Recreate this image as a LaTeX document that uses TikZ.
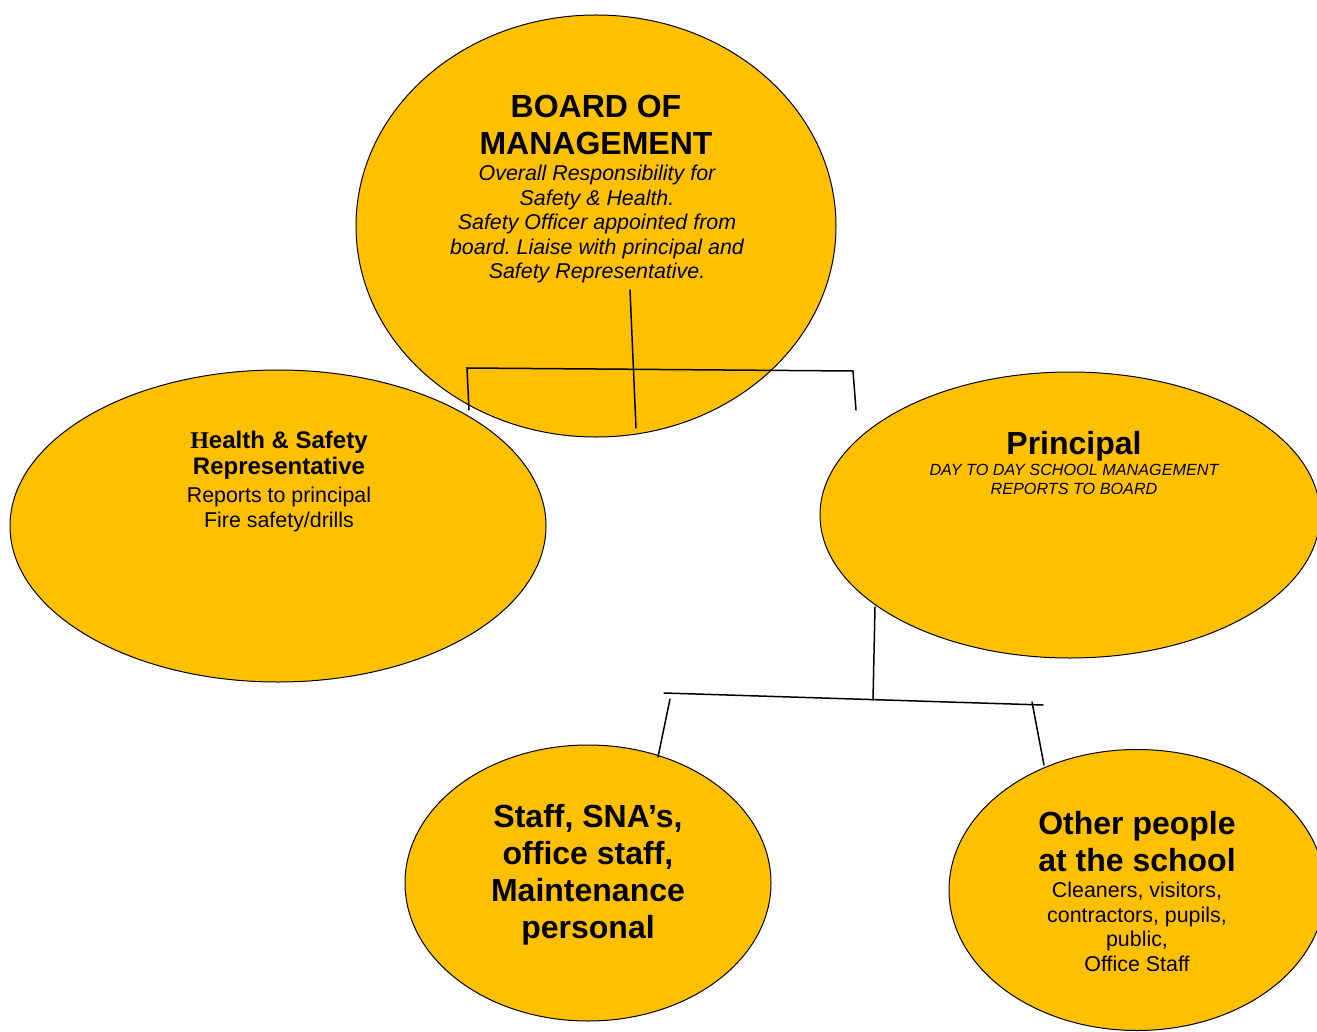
\documentclass[tikz,border=0pt]{standalone}
\usepackage{fontspec}
\setmainfont{Liberation Sans}
\newfontfamily\serifH{Liberation Serif}
\usetikzlibrary{shapes.geometric}
\definecolor{orgGold}{RGB}{255,192,0}
\frenchspacing
\begin{document}
\begin{tikzpicture}[x=1pt,y=-1pt,
    orgEllipse/.style={ellipse,draw=black,line width=1pt,fill=orgGold,inner sep=0pt},
    orgLine/.style={line width=1.5pt,line cap=round},
    orgTitle/.style={anchor=north,inner sep=0pt,align=center,font=\fontsize{32}{37}\selectfont\bfseries},
    orgText/.style={anchor=north,inner sep=0pt,align=center,font=\fontsize{21.4}{24.5}\selectfont},
]
\clip (0,0) rectangle (1317,1032);
% Ellipses
\node[orgEllipse,minimum width=480pt,minimum height=422pt] (board) at (596,226) {};
\node[orgEllipse,minimum width=536pt,minimum height=312pt] (hsRep) at (278,526) {};
\node[orgEllipse,minimum width=500pt,minimum height=286pt] (principal) at (1070,515) {};
\node[orgEllipse,minimum width=366pt,minimum height=276pt] (staff) at (588,883) {};
\node[orgEllipse,minimum width=376pt,minimum height=281pt] (others) at (1137,890) {};
% Texts
\node[orgTitle] (boardTitle) at (596,95) {BOARD OF\\MANAGEMENT};
\node[orgText,font=\fontsize{21.4}{24.5}\selectfont\itshape] (boardText) at (597,165)
    {Overall Responsibility for\\Safety \& Health.\\Safety Officer appointed from\\board. Liaise with principal and\\Safety Representative.};
\node[orgTitle,font=\fontsize{24}{26}\selectfont\bfseries] (hsTitle) at (279,431)
    {{\serifH H}ealth \& Safety\\Representative};
\node[orgText] (hsText) at (279,487) {Reports to principal\\Fire safety/drills};
\node[orgTitle] (prTitle) at (1074,431) {Principal};
\node[orgText,font=\fontsize{16.2}{19}\selectfont\itshape] (prText) at (1074,464)
    {DAY TO DAY SCHOOL MANAGEMENT\\REPORTS TO BOARD};
\node[orgTitle] (staffTitle) at (588,804) {Staff, SNA’s,\\office staff,\\Maintenance\\personal};
\node[orgTitle] (othersTitle) at (1137,811) {Other people\\at the school};
\node[orgText] (othersText) at (1137,882) {Cleaners, visitors,\\contractors, pupils,\\public,\\Office Staff};
% Connectors, top
\coordinate (boardStemTop) at (630,290);
\coordinate (boardStemEnd) at (636,428);
\coordinate (topBarL) at (467,368);
\coordinate (topBarR) at (853,371);
\coordinate (topDropL) at (469,410);
\coordinate (topDropR) at (856,410);
\draw[orgLine] (boardStemTop) -- (boardStemEnd);
\draw[orgLine] (topDropL) -- (topBarL) -- (topBarR) -- (topDropR);
% Connectors, bottom
\coordinate (prStemTop) at (875,607);
\coordinate (prStemEnd) at (873,700);
\coordinate (lowBarL) at (664,693);
\coordinate (lowBarR) at (1043,705);
\coordinate (lowDropLTop) at (670,699);
\coordinate (lowDropLEnd) at (658,757);
\coordinate (lowDropRTop) at (1032,702);
\coordinate (lowDropREnd) at (1044,765);
\draw[orgLine] (prStemTop) -- (prStemEnd);
\draw[orgLine] (lowBarL) -- (lowBarR);
\draw[orgLine] (lowDropLTop) -- (lowDropLEnd);
\draw[orgLine] (lowDropRTop) -- (lowDropREnd);
\end{tikzpicture}
\end{document}
